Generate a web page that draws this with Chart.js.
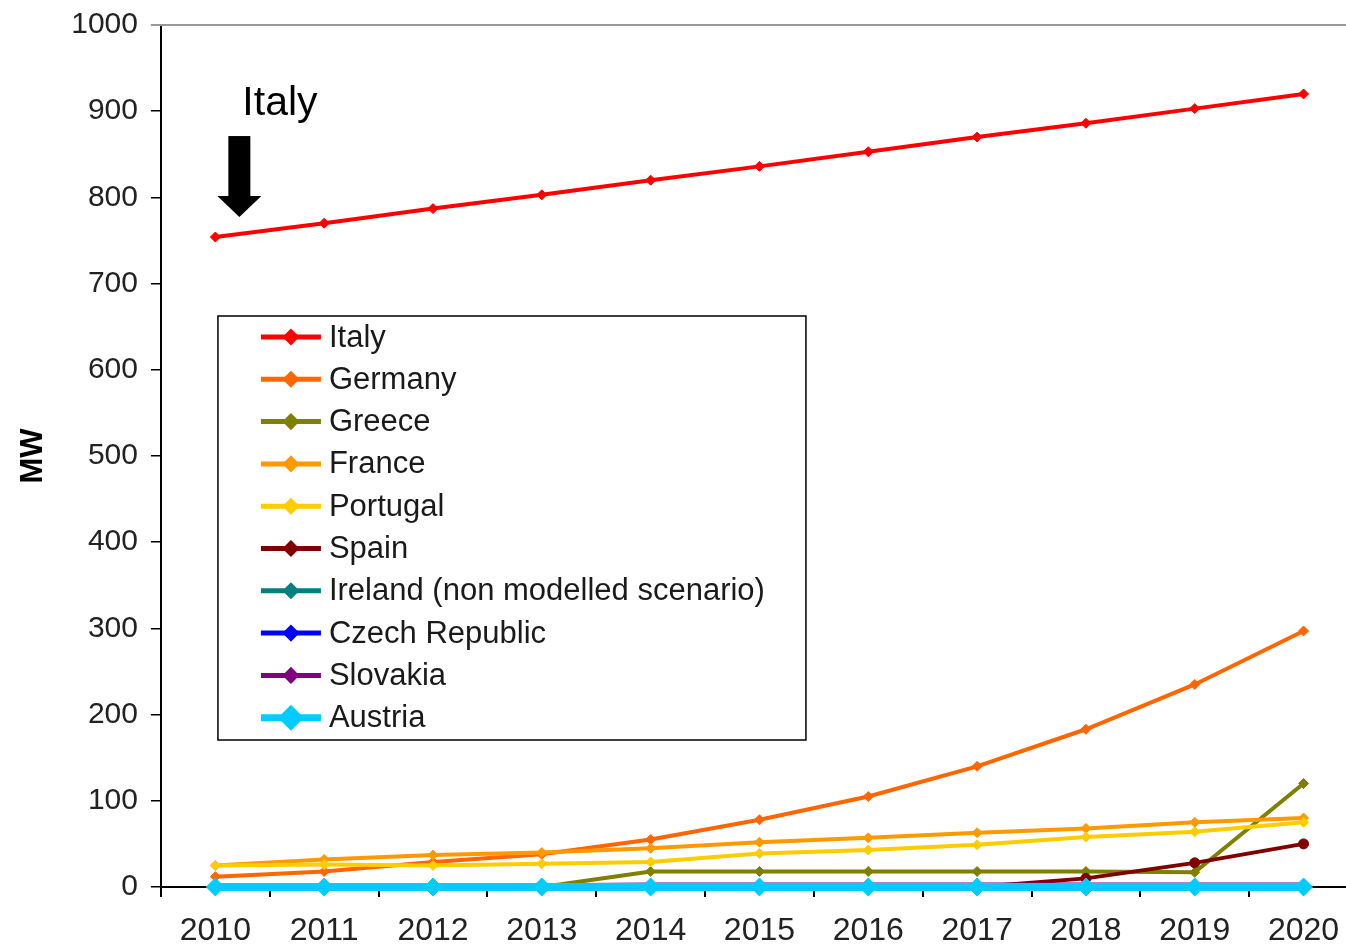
<!DOCTYPE html>
<html>
<head>
    <title>Installed capacity 2010-2020 | MW</title>
    <script src="https://cdn.jsdelivr.net/npm/chart.js"></script>
    <style>
        body { margin: 0; background: #fff; overflow: hidden; }
        #wrap { width: 1346px; height: 946px; }
    </style>
</head>
<body>
    <div id="wrap"><canvas id="myChart" width="1346" height="946"></canvas></div>

    <script>
      // years on the x axis
      const years = [2010, 2011, 2012, 2013, 2014, 2015, 2016, 2017, 2018, 2019, 2020];
      const yTicks = [0, 100, 200, 300, 400, 500, 600, 700, 800, 900, 1000];

      // MW per country
      const italy    = [754, 770, 787, 803, 820, 836, 853, 870, 886, 903, 920];
      const germany  = [12, 18, 29, 38, 55, 78, 105, 140, 183, 235, 297];
      const greece   = [0, 0, 0, 0, 18, 18, 18, 18, 18, 17, 120];
      const france   = [25, 32, 37, 40, 45, 52, 57, 63, 68, 75, 80];
      const portugal = [25, 26, 25, 27, 29, 39, 43, 49, 58, 64, 75];
      const spain    = [0, 0, 0, 0, 0, 0, 0, 0, 10, 28, 50];
      const ireland  = [0, 0, 0, 0, 0, 0, 0, 0, 0, 0, 0];
      const czech    = [1, 1, 1, 1, 1, 1, 1, 1, 1, 1, 1];
      const slovakia = [0, 0, 0, 2, 3, 3, 3, 3, 3, 3, 3];
      const austria  = [0, 0, 0, 0, 0, 0, 0, 0, 0, 0, 0];

      const names = ["Italy", "Germany", "Greece", "France", "Portugal", "Spain",
                     "Ireland (non modelled scenario)", "Czech Republic", "Slovakia", "Austria"];
      const series = [italy, germany, greece, france, portugal, spain, ireland, czech, slovakia, austria];
      const colors = ["#ff0000", "#ff6600", "#808000", "#ff9900", "#ffcc00", "#800000",
                      "#008080", "#0000ff", "#800080", "#00ccff"];
      const markers = ["rectRot", "rectRot", "rectRot", "rectRot", "rectRot", "circle",
                       "rectRot", "rectRot", "rectRot", "rectRot"];

      const FONT = "'Liberation Sans', Arial, sans-serif";
      Chart.defaults.font.family = FONT;
      Chart.defaults.color = "#222";

      const datasets = names.map((name, k) => {
        const big = name === "Austria";
        return {
          label: name,
          data: years.map((yr, i) => ({ x: yr, y: series[k][i] })),
          borderColor: colors[k],
          backgroundColor: colors[k],
          borderWidth: big ? 8 : 4,
          pointStyle: markers[k],
          pointRadius: big ? 9 : 5,
          pointBorderWidth: 1,
          tension: 0,
          clip: false,
          order: names.length - k   // Austria ends up on top
        };
      });

      // boxed legend, top frame line and the "Italy" arrow
      const extras = {
        id: "extras",
        afterDraw(chart) {
          const ctx = chart.ctx;
          const area = chart.chartArea;
          const xs = chart.scales.x, ys = chart.scales.y;
          ctx.save();

          // grey frame line along the top of the plot
          ctx.strokeStyle = "#999";
          ctx.lineWidth = 2;
          ctx.beginPath();
          ctx.moveTo(area.left - 10, area.top);
          ctx.lineTo(area.right, area.top);
          ctx.stroke();

          // arrow pointing at the first Italy point
          const px = xs.getPixelForValue(years[0]);
          const py = ys.getPixelForValue(italy[0]);
          const tipX = px + 24, tipY = py - 20;
          ctx.fillStyle = "#000";
          ctx.fillRect(tipX - 11, tipY - 81, 22, 60);
          ctx.beginPath();
          ctx.moveTo(tipX - 22, tipY - 21);
          ctx.lineTo(tipX + 22, tipY - 21);
          ctx.lineTo(tipX, tipY);
          ctx.closePath();
          ctx.fill();
          ctx.font = "41px " + FONT;
          ctx.textBaseline = "middle";
          ctx.textAlign = "left";
          ctx.fillText("Italy", px + 27, py - 133);

          // legend box
          const bx = area.left + 57, by = 316, bw = 588, bh = 424;
          ctx.fillStyle = "#fff";
          ctx.fillRect(bx, by, bw, bh);
          ctx.strokeStyle = "#000";
          ctx.lineWidth = 1.5;
          ctx.strokeRect(bx, by, bw, bh);

          ctx.font = "31px " + FONT;
          names.forEach((name, k) => {
            const ry = by + 21 + k * 42.3;
            const big = name === "Austria";
            ctx.strokeStyle = colors[k];
            ctx.lineWidth = big ? 7 : 5;
            ctx.beginPath();
            ctx.moveTo(bx + 43, ry);
            ctx.lineTo(bx + 103, ry);
            ctx.stroke();
            Chart.helpers.drawPoint(ctx, {
              pointStyle: "rectRot",
              radius: big ? 8 : 5,
              borderWidth: 1
            }, bx + 73, ry);
            ctx.fillStyle = colors[k];
            ctx.fill();
            ctx.fillStyle = "#1a1a1a";
            ctx.fillText(name, bx + 111, ry + 1);
          });
          ctx.restore();
        }
      };

      const ctx = document.getElementById("myChart");
      const mychart = new Chart(ctx, {
        type: "line",
        data: { datasets: datasets },
        options: {
          responsive: false,
          animation: false,
          // year labels hang partly below the canvas edge
          layout: { autoPadding: false, padding: { top: 25, right: 0, bottom: -19, left: 0 } },
          plugins: {
            legend: { display: false },
            tooltip: { enabled: false }
          },
          scales: {
            x: {
              type: "linear",
              min: 2009.5,
              max: 2020.39,
              afterBuildTicks: (scale) => { scale.ticks = years.map(v => ({ value: v })); },
              ticks: {
                callback: (v) => String(v),
                font: { size: 32, lineHeight: 2.125 },
                color: "#222",
                padding: 0,
                maxRotation: 0,
                autoSkip: false
              },
              grid: {
                offset: true,
                drawOnChartArea: false,
                tickLength: 10,
                color: "#000",
                lineWidth: 2
              },
              border: { display: true, color: "#000", width: 2 }
            },
            y: {
              min: 0,
              max: 1000,
              afterBuildTicks: (scale) => { scale.ticks = yTicks.map(v => ({ value: v })); },
              ticks: {
                callback: (v) => String(v),
                font: { size: 30, lineHeight: 0.8 },
                color: "#222",
                padding: 13
              },
              grid: {
                drawOnChartArea: false,
                tickLength: 10,
                color: "#000",
                lineWidth: 1.5
              },
              border: { display: true, color: "#000", width: 2 },
              title: {
                display: true,
                text: "MW",
                color: "#000",
                font: { size: 31, weight: "bold" },
                padding: { top: 15, bottom: 6 }
              }
            }
          }
        },
        plugins: [extras]
      });
    </script>
</body>
</html>
